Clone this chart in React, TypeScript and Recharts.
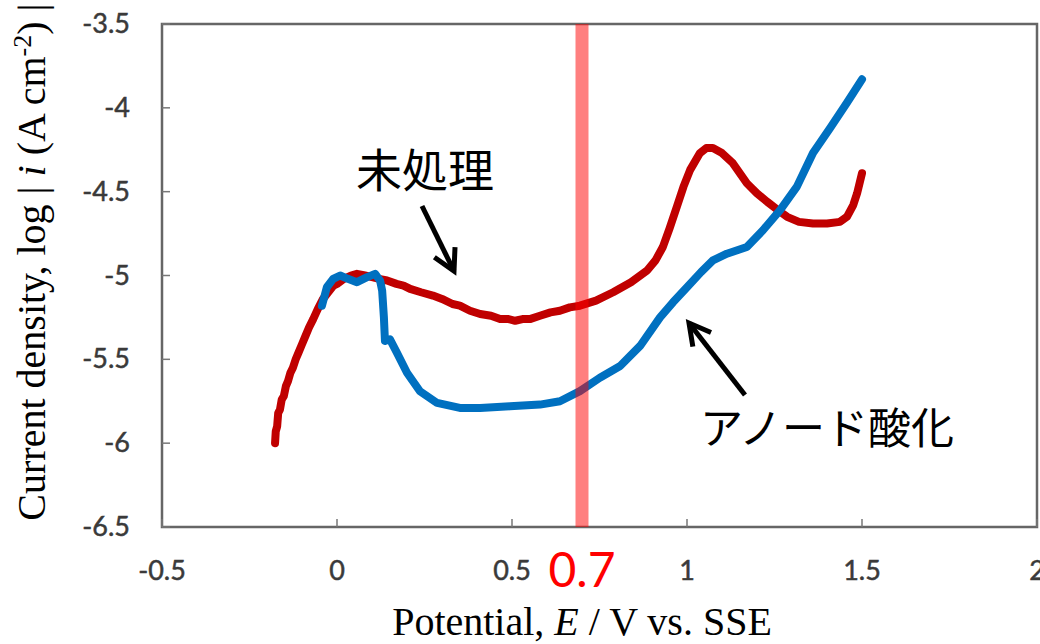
import React from 'react';
import { LineChart, Line, XAxis, YAxis, ReferenceLine, ReferenceArea, Customized } from 'recharts';

// log|i| vs potential, [E (V vs. SSE), log|i| (A cm-2)]
const untreatedCurve: [number, number][] = [
  [-0.177, -6.0], [-0.175, -5.93], [-0.171, -5.9], [-0.168, -5.82], [-0.163, -5.8],
  [-0.158, -5.74], [-0.152, -5.72], [-0.146, -5.66], [-0.14, -5.63], [-0.133, -5.58],
  [-0.126, -5.55], [-0.118, -5.5], [-0.11, -5.46], [-0.1, -5.41], [-0.09, -5.36],
  [-0.08, -5.31], [-0.068, -5.26], [-0.055, -5.2], [-0.04, -5.14], [-0.025, -5.1],
  [-0.01, -5.06], [0.0, -5.05], [0.02, -5.02], [0.04, -5.0], [0.057, -4.99],
  [0.08, -5.0], [0.1, -5.01], [0.12, -5.02], [0.143, -5.03], [0.17, -5.05],
  [0.19, -5.06], [0.209, -5.08], [0.24, -5.1], [0.274, -5.12], [0.3, -5.14],
  [0.33, -5.17], [0.351, -5.18], [0.38, -5.21], [0.409, -5.23], [0.44, -5.24],
  [0.466, -5.26], [0.49, -5.26], [0.509, -5.27], [0.53, -5.26], [0.551, -5.26],
  [0.58, -5.24], [0.61, -5.22], [0.637, -5.21], [0.665, -5.19], [0.694, -5.18],
  [0.74, -5.15], [0.789, -5.1], [0.84, -5.04], [0.886, -4.97], [0.91, -4.91],
  [0.931, -4.83], [0.95, -4.72], [0.971, -4.59], [0.99, -4.47], [1.009, -4.37],
  [1.037, -4.27], [1.055, -4.24], [1.074, -4.24], [1.1, -4.27], [1.131, -4.33],
  [1.171, -4.45], [1.2, -4.51], [1.229, -4.56], [1.26, -4.61], [1.286, -4.65],
  [1.32, -4.68], [1.36, -4.69], [1.4, -4.69], [1.437, -4.68], [1.457, -4.65],
  [1.475, -4.58], [1.486, -4.51], [1.5, -4.39],
];

const anodizedCurve: [number, number][] = [
  [-0.043, -5.18], [-0.029, -5.07], [-0.011, -5.02], [0.009, -5.0], [0.031, -5.02],
  [0.057, -5.04], [0.086, -5.01], [0.109, -4.99], [0.123, -5.03], [0.129, -5.09],
  [0.134, -5.25], [0.137, -5.39], [0.151, -5.38], [0.171, -5.46], [0.2, -5.58],
  [0.237, -5.69], [0.286, -5.76], [0.351, -5.79], [0.409, -5.79], [0.494, -5.78],
  [0.58, -5.77], [0.637, -5.75], [0.694, -5.69], [0.751, -5.61], [0.809, -5.54],
  [0.866, -5.42], [0.923, -5.25], [0.96, -5.16], [1.0, -5.07], [1.04, -4.98],
  [1.074, -4.91], [1.114, -4.87], [1.171, -4.83], [1.217, -4.73], [1.266, -4.61],
  [1.314, -4.47], [1.36, -4.27], [1.409, -4.12], [1.457, -3.97], [1.5, -3.83],
];

const xTicks = [-0.5, 0, 0.5, 0.7, 1, 1.5, 2];
const yTicks = [-6.5, -6, -5.5, -5, -4.5, -4, -3.5];
const markedPotential = 0.7;

const untreatedData = untreatedCurve.map(([x, y]) => ({ x, y }));
const anodizedData = anodizedCurve.map(([x, y]) => ({ x, y }));

const tickFont = 'Lato, "Open Sans", sans-serif';
const serif = '"Liberation Serif", "Times New Roman", serif';
const cjk = '"Noto Sans CJK JP", "Noto Sans CJK SC", sans-serif';

function XTick(props: any) {
  const { x, y, payload } = props;
  const v = payload.value;
  if (v === markedPotential) {
    return (
      <text x={x} y={y + 60} textAnchor="middle" fill="#ff0000" fontFamily={tickFont} fontSize={48}>
        {String(v)}
      </text>
    );
  }
  return (
    <g>
      <line x1={x} x2={x} y1={y} y2={y - 8} stroke="#777" strokeWidth={1.5} />
      <text
        x={x}
        y={y + 53}
        textAnchor="middle"
        fill="#3a3a3a"
        stroke="#3a3a3a"
        strokeWidth={0.5}
        fontFamily={tickFont}
        fontSize={27}
      >
        {String(v)}
      </text>
    </g>
  );
}

function YTick(props: any) {
  const { x, y, payload } = props;
  return (
    <g>
      <line x1={x} x2={x + 8} y1={y} y2={y} stroke="#777" strokeWidth={1.5} />
      <text
        x={x - 32}
        y={y + 9}
        textAnchor="end"
        fill="#3a3a3a"
        stroke="#3a3a3a"
        strokeWidth={0.5}
        fontFamily={tickFont}
        fontSize={27}
      >
        {String(payload.value)}
      </text>
    </g>
  );
}

function Arrow({ from, to }: { from: [number, number]; to: [number, number] }) {
  const [x1, y1] = from;
  const [x2, y2] = to;
  const ang = Math.atan2(y2 - y1, x2 - x1);
  const len = 24;
  const spread = 0.5;
  const a = [x2 - len * Math.cos(ang - spread), y2 - len * Math.sin(ang - spread)];
  const b = [x2 - len * Math.cos(ang + spread), y2 - len * Math.sin(ang + spread)];
  return (
    <g stroke="#000" strokeWidth={5} fill="none">
      <line x1={x1} y1={y1} x2={x2} y2={y2} />
      <path d={`M${a[0]},${a[1]} L${x2},${y2} L${b[0]},${b[1]}`} strokeLinejoin="miter" />
    </g>
  );
}

function Annotations() {
  return (
    <g>
      <text x={425} y={187} textAnchor="middle" fontFamily={cjk} fontSize={46} fill="#000">未処理</text>
      <Arrow from={[422, 206]} to={[454, 271]} />
      <text x={827} y={444} textAnchor="middle" fontFamily={cjk} fontSize={43} fill="#000">アノード酸化</text>
      <Arrow from={[745, 395]} to={[689, 323]} />
      <text x={582} y={635} textAnchor="middle" fontFamily={serif} fontSize={40} fill="#000">
        Potential, <tspan fontStyle="italic">E</tspan> / V vs. SSE
      </text>
      <text
        x={45}
        y={262}
        textAnchor="middle"
        fontFamily={serif}
        fontSize={40}
        fill="#000"
        transform="rotate(-90, 45, 262)"
      >
        Current density, log | <tspan fontStyle="italic">i</tspan> (A cm
        <tspan fontSize={26} dy={-14}>-2</tspan>
        <tspan dy={14}>) |</tspan>
      </text>
    </g>
  );
}

export default function App() {
  return (
    <div style={{ position: 'absolute', left: 0, top: 0, width: 1040, height: 644, background: '#fff' }}>
      <LineChart width={1040} height={644} margin={{ top: 24, right: 3, bottom: 0, left: 0 }}>
        <XAxis
          type="number"
          dataKey="x"
          domain={[-0.5, 2]}
          ticks={xTicks}
          tick={<XTick />}
          tickLine={false}
          axisLine={false}
          tickSize={0}
          tickMargin={0}
          height={117}
          interval={0}
          allowDataOverflow
        />
        <YAxis
          type="number"
          dataKey="y"
          domain={[-6.5, -3.5]}
          ticks={yTicks}
          tick={<YTick />}
          tickLine={false}
          axisLine={false}
          tickSize={0}
          tickMargin={0}
          width={162}
          interval={0}
          allowDataOverflow
        />
        <Line
          data={untreatedData}
          dataKey="y"
          type="linear"
          stroke="#c00000"
          strokeWidth={8}
          strokeLinecap="round"
          strokeLinejoin="round"
          dot={false}
          isAnimationActive={false}
        />
        <Line
          data={anodizedData}
          dataKey="y"
          type="linear"
          stroke="#0070c0"
          strokeWidth={8}
          strokeLinecap="round"
          strokeLinejoin="round"
          dot={false}
          isAnimationActive={false}
        />
        <ReferenceLine x={markedPotential} stroke="#ff0000" strokeOpacity={0.5} strokeWidth={13} />
        <ReferenceArea x1={-0.5} x2={2} y1={-6.5} y2={-3.5} fill="none" stroke="#666" strokeWidth={2.5} />
        <Customized component={Annotations} />
      </LineChart>
    </div>
  );
}
